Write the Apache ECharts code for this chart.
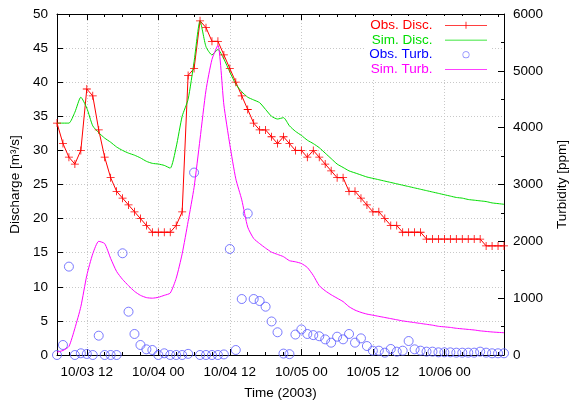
<!DOCTYPE html>
<html>
<head>
<meta charset="utf-8">
<script src="https://cdn.jsdelivr.net/npm/echarts@6/dist/echarts.min.js"></script>
<style>
  html, body { margin: 0; padding: 0; background: #fff; }
  #main { width: 571px; height: 403px; }
</style>
</head>
<body>
<div id="main"></div>
<script>
// hours counted from 10/03 00:00 (2003)
var hours = [7, 8, 9, 10, 11, 12, 13, 14, 15, 16, 17, 18, 19, 20, 21, 22, 23, 24, 25, 26,
  27, 28, 29, 30, 31, 32, 33, 34, 35, 36, 37, 38, 39, 40, 41, 42, 43, 44, 45, 46,
  47, 48, 49, 50, 51, 52, 53, 54, 55, 56, 57, 58, 59, 60, 61, 62, 63, 64, 65, 66,
  67, 68, 69, 70, 71, 72, 73, 74, 75, 76, 77, 78, 79, 80, 81, 82];

var obsDisc = [34, 31, 29, 28, 30, 39, 38, 33, 29, 26, 24, 23, 22, 21, 20, 19, 18, 18, 18, 18,
  19, 21, 41, 42, 49, 48, 46, 46, 44, 42, 40, 38, 36, 34, 33, 33, 32, 31, 32, 31,
  30, 30, 29, 30, 29, 28, 27, 26, 26, 24, 24, 23, 22, 21, 21, 20, 19, 19, 18, 18,
  18, 18, 17, 17, 17, 17, 17, 17, 17, 17, 17, 17, 16, 16, 16, 16];

var simDisc = [34.0, 34.0, 34.0, 35.6, 37.8, 36.2, 33.6, 32.6, 31.8, 31.2, 30.5, 30.0, 29.6, 29.3, 28.9, 28.4, 28.1, 28.0, 27.8, 27.4,
  30.5, 35.0, 37.5, 43.0, 49.0, 45.2, 44.0, 44.8, 43.4, 41.5, 39.7, 38.6, 37.8, 37.4, 37.0, 36.0, 35.0, 34.6, 34.8, 33.6,
  32.8, 32.2, 31.5, 31.0, 30.4, 29.6, 28.8, 28.0, 27.5, 27.0, 26.7, 26.4, 26.1, 25.9, 25.7, 25.5, 25.3, 25.1, 24.9, 24.7,
  24.5, 24.3, 24.1, 23.9, 23.7, 23.5, 23.3, 23.1, 23.0, 22.8, 22.7, 22.6, 22.5, 22.3, 22.2, 22.1];

var obsTurb = [0, 176, 1555, 0, 30, 18, 0, 340, 0, 0, 0, 1790, 762, 370, 176, 100, 88, 0, 30, 0,
  0, 0, 20, 3210, 0, 0, 0, 0, 10, 1865, 88, 985, 2490, 985, 950, 850, 590, 400, 25, 15,
  360, 450, 370, 350, 330, 275, 217, 322, 276, 370, 217, 293, 158, 76, 76, 41, 106, 59, 76, 246,
  100, 76, 59, 59, 47, 47, 47, 41, 41, 41, 41, 59, 41, 30, 30, 30];

var simTurb = [50, 80, 150, 470, 850, 1400, 1780, 2000, 1960, 1700, 1470, 1330, 1220, 1120, 1050, 1010, 1000, 1015, 1050, 1090,
  1350, 1780, 2350, 2950, 3800, 4660, 5200, 5450, 4400, 3700, 3100, 2730, 2250, 2050, 1960, 1880, 1810, 1770, 1730, 1660,
  1640, 1610, 1540, 1400, 1220, 1130, 1060, 1000, 940, 850, 790, 750, 720, 700, 680, 660, 640, 620, 600, 585,
  570, 555, 540, 525, 505, 495, 485, 470, 460, 450, 440, 425, 415, 405, 398, 392];

var majorHours = [12, 24, 36, 48, 60, 72];
var majorLabels = ['10/03 12', '10/04 00', '10/04 12', '10/05 00', '10/05 12', '10/06 00'];
var minorHours = [9, 15, 18, 21, 27, 30, 33, 39, 42, 45, 51, 54, 57, 63, 66, 69, 75, 78, 81];

var FONT = 'Liberation Sans';
var plusPath = 'path://M4.5,0H5.5V4.5H10V5.5H5.5V10H4.5V5.5H0V4.5H4.5Z';
// legend samples (the two leading moves fix the box to 42x10)
var iconLine = 'path://M0,0M42,10M0,4.6H42V5.4H0Z';
var iconLinePlus = 'path://M0,0M42,10M0,4.6H20.6V1.5H21.4V4.6H42V5.4H21.4V8.5H20.6V5.4H0Z';
var iconRing = 'path://M0,0M42,10M24.5,5A3.5,3.5,0,1,0,17.5,5A3.5,3.5,0,1,0,24.5,5ZM23.8,5A2.8,2.8,0,1,1,18.2,5A2.8,2.8,0,1,1,23.8,5Z';

function pairs(ys) {
  return hours.map(function (h, i) { return [h, ys[i]]; });
}

var chartDom = document.getElementById('main');
var myChart = echarts.init(chartDom, null, { renderer: 'canvas' });

function xAx(pos, ticks, len, withLine, withLabel) {
  return {
    type: 'value', position: pos, min: 7, max: 82,
    axisLine: { show: withLine, lineStyle: { color: '#000', width: 1 } },
    axisTick: { show: true, inside: true, length: len, customValues: ticks, lineStyle: { color: '#000' } },
    axisLabel: withLabel ? {
      customValues: majorHours, margin: 10, color: '#000', fontFamily: FONT, fontSize: 13.5,
      formatter: function (v) { return majorLabels[majorHours.indexOf(v)]; }
    } : { show: false },
    splitLine: withLabel ? { show: true, lineStyle: { color: '#c8c8c8', type: [1, 2] } } : { show: false }
  };
}

var xMain = xAx('bottom', majorHours, 6, true, true);
xMain.name = 'Time (2003)';
xMain.nameLocation = 'middle';
xMain.nameGap = 31;
xMain.nameTextStyle = { color: '#000', fontFamily: FONT, fontSize: 13.5 };

var option = {
  animation: false,
  backgroundColor: '#fff',
  grid: { left: 57, right: 67, top: 14, bottom: 48, containLabel: false, outerBoundsMode: 'none' },
  legend: {
    orient: 'vertical', right: 80, top: 16, align: 'right',
    itemWidth: 42, itemHeight: 10, itemGap: 0,
    backgroundColor: '#fff', padding: [2, 4, 2, 4],
    formatter: function (n) { return n + '  '; },
    textStyle: { fontFamily: FONT, fontSize: 13.5, lineHeight: 14.7 },
    data: [
      { name: 'Obs. Disc.', icon: iconLinePlus, textStyle: { color: '#ff0000' } },
      { name: 'Sim. Disc.', icon: iconLine, textStyle: { color: '#00dd00' } },
      { name: 'Obs. Turb.', icon: iconRing, itemStyle: { color: '#6060ff', borderWidth: 0 }, textStyle: { color: '#0000ff' } },
      { name: 'Sim. Turb.', icon: iconLine, textStyle: { color: '#ff00ff' } }
    ]
  },
  xAxis: [
    xMain,
    xAx('bottom', minorHours, 3, false, false),
    xAx('top', majorHours, 6, true, false),
    xAx('top', minorHours, 3, false, false)
  ],
  yAxis: [
    {
      type: 'value', position: 'left', min: 0, max: 50, interval: 5,
      name: 'Discharge [m³/s]', nameLocation: 'middle', nameRotate: 90, nameGap: 31.5,
      nameTextStyle: { color: '#000', fontFamily: FONT, fontSize: 13.5 },
      axisLine: { show: true, lineStyle: { color: '#000' } },
      axisTick: { inside: true, length: 6, lineStyle: { color: '#000' } },
      axisLabel: { margin: 9, color: '#000', fontFamily: FONT, fontSize: 13.5 },
      splitLine: { show: true, lineStyle: { color: '#c8c8c8', type: [1, 2] } }
    },
    {
      type: 'value', position: 'right', min: 0, max: 6000, interval: 1000,
      name: 'Turbidity [ppm]', nameLocation: 'middle', nameRotate: 90, nameGap: 51.5,
      nameTextStyle: { color: '#000', fontFamily: FONT, fontSize: 13.5 },
      axisLine: { show: true, lineStyle: { color: '#000' } },
      axisTick: { inside: true, length: 6, lineStyle: { color: '#000' } },
      minorTick: { show: true, splitNumber: 2, length: 3, lineStyle: { color: '#000' } },
      axisLabel: {
        margin: 9, color: '#000', fontFamily: FONT, fontSize: 13.5,
        formatter: function (v) { return String(v); }
      },
      splitLine: { show: false }
    }
  ],
  series: [
    {
      name: 'Obs. Disc.', type: 'line', xAxisIndex: 0, yAxisIndex: 0,
      data: pairs(obsDisc),
      symbol: plusPath, symbolSize: 8, showSymbol: true,
      lineStyle: { color: '#ff0000', width: 1 },
      itemStyle: { color: '#ff0000' }
    },
    {
      name: 'Sim. Disc.', type: 'line', xAxisIndex: 0, yAxisIndex: 0,
      data: pairs(simDisc), symbol: 'none', smooth: 0.2,
      lineStyle: { color: '#00dd00', width: 1 },
      itemStyle: { color: '#00dd00' }
    },
    {
      name: 'Obs. Turb.', type: 'scatter', xAxisIndex: 0, yAxisIndex: 1,
      data: pairs(obsTurb), symbol: 'circle', symbolSize: 9,
      itemStyle: { color: 'rgba(0,0,0,0)', borderColor: '#5a5aff', borderWidth: 1 }
    },
    {
      name: 'Sim. Turb.', type: 'line', xAxisIndex: 0, yAxisIndex: 1,
      data: pairs(simTurb), symbol: 'none', smooth: 0.2,
      lineStyle: { color: '#ff00ff', width: 1 },
      itemStyle: { color: '#ff00ff' }
    }
  ]
};

option && myChart.setOption(option);
</script>
</body>
</html>
